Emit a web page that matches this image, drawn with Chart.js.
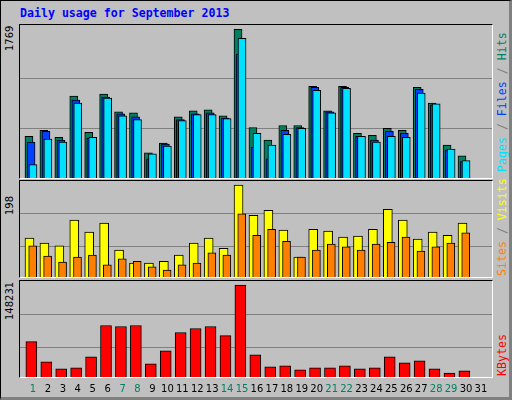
<!DOCTYPE html>
<html>
<head>
<meta charset="utf-8">
<script src="https://cdn.jsdelivr.net/npm/chart.js@4"></script>
<style>
  body { margin: 0; width: 512px; height: 400px; overflow: hidden; background: #c0c0c0; }
  #frame { position: absolute; left: 0; top: 0; width: 508px; height: 396px; border: 1px solid #000;
    border-right: 3px solid #808080; border-bottom: 3px solid #808080; box-sizing: content-box; }
  .t { position: absolute; font-family: "DejaVu Sans Mono", monospace; white-space: nowrap; }
  .panel { position: absolute; left: 19px; width: 472px; border-top: 1px solid #000; border-left: 1px solid #000;
    border-right: 1px solid #fff; border-bottom: 1px solid #fff; }
  .rot { position: absolute; transform-origin: left top; transform: rotate(-90deg); white-space: nowrap; }
  canvas { position: absolute; left: 0; top: 0; }
</style>
</head>
<body>
<div id="frame"></div>
<div class="t" style="left:20px;top:6px;color:#0000ff;font-weight:bold;font-size:11.6px;">Daily usage for September 2013</div>

<div class="panel" style="top:24px;height:153px;"><canvas id="c1"></canvas></div>
<div class="panel" style="top:180px;height:96px;"><canvas id="c2"></canvas></div>
<div class="panel" style="top:280px;height:96px;"><canvas id="c3"></canvas></div>

<div class="rot" style="left:4px;top:51px;font:10px 'DejaVu Sans';">1769</div>
<div class="rot" style="left:4px;top:215px;font:10px 'DejaVu Sans';">198</div>
<div class="rot" style="left:4px;top:320px;font:10px 'DejaVu Sans';">148231</div>

<div class="rot t" style="left:495px;top:172px;font-size:11.6px;"><span style="color:#00e0ff">Pages</span><span style="color:#808080"> / </span><span style="color:#0040ff">Files</span><span style="color:#808080"> / </span><span style="color:#008060">Hits</span></div>
<div class="rot t" style="left:495px;top:276px;font-size:11.6px;"><span style="color:#ff8000">Sites</span><span style="color:#808080"> / </span><span style="color:#ffff00">Visits</span></div>
<div class="rot t" style="left:495px;top:376px;font-size:11.6px;color:#ff0000;">KBytes</div>

<script>
const days = [1,2,3,4,5,6,7,8,9,10,11,12,13,14,15,16,17,18,19,20,21,22,23,24,25,26,27,28,29,30,31];
const weekend = [1,7,8,14,15,21,22,28,29];

const hits  = [497,566,485,974,543,997,787,776,299,415,729,799,811,741,1769,601,450,625,625,1090,799,1090,531,508,590,566,1078,892,392,264,0];
const files = [427,555,450,927,473,962,764,729,229,403,694,764,776,714,1474,369,229,566,601,1078,787,1078,497,450,555,531,1055,869,334,194,0];
const pages = [159,462,427,892,485,950,741,694,287,380,683,753,753,706,1660,531,392,520,590,1043,776,1067,497,427,497,485,1009,881,345,206,0];

const visits = [84,73,67,123,97,116,58,30,30,34,47,73,84,62,198,133,144,101,43,103,99,86,88,103,146,123,82,97,90,116,0];
const sites  = [67,45,32,43,47,26,39,34,22,15,26,30,52,47,136,90,103,77,43,58,71,65,58,71,75,86,56,65,73,95,0];

const kbytes = [57015,24435,13032,14661,32580,83079,81450,83079,21177,42354,71676,78192,81450,66789,148231,35838,16290,17919,11403,14661,14661,17919,13032,14661,32580,22806,26064,13032,6516,9774,0];

const grid1 = [590, 1180], max1 = 1820;
const grid2 = [65, 136], max2 = 207;
const grid3 = [47240, 100995], max3 = 154747;

function pts(vals, shift) {
  return vals.map((v, i) => ({ x: days[i] + shift, y: v }));
}

function makeChart(id, h, datasets, grid, max, extra) {
  const cv = document.getElementById(id);
  cv.width = 472; cv.height = h;
  cv.style.width = "472px"; cv.style.height = h + "px";
  return new Chart(cv, {
    type: "bar",
    data: { datasets: datasets },
    options: {
      responsive: false,
      animation: false,
      grouped: false,
      layout: { padding: extra ? { bottom: 24 } : 0 },
      plugins: { legend: { display: false }, tooltip: { enabled: false } },
      scales: {
        x: { type: "linear", min: 0.13, max: 31.74, offset: false, display: false },
        y: {
          min: 0, max: max,
          afterBuildTicks: (s) => { s.ticks = grid.map((v) => ({ value: v })); },
          ticks: { display: false },
          grid: { color: "#808080", lineWidth: 1, drawTicks: false },
          border: { display: false },
        },
      },
    },
    plugins: extra ? [extra] : [],
  });
}

function bar(label, vals, shift, color, w, order) {
  return {
    label: label, data: pts(vals, shift), backgroundColor: color,
    borderColor: "#000", borderWidth: 1, barThickness: w, order: order,
  };
}

makeChart("c1", 153, [
  bar("Hits", hits, -0.27, "#008060", 8, 3),
  bar("Files", files, -0.13, "#0040ff", 8, 2),
  bar("Pages", pages, 0, "#00e0ff", 8, 1),
], grid1, max1);

makeChart("c2", 96, [
  bar("Visits", visits, -0.235, "#ffff00", 9, 2),
  bar("Sites", sites, -0.02, "#ff8000", 8, 1),
], grid2, max2);

const dayLabels = {
  id: "dayLabels",
  afterDraw(chart) {
    const ctx = chart.ctx, xs = chart.scales.x;
    ctx.save();
    ctx.font = "10px 'DejaVu Sans'";
    ctx.textAlign = "center";
    ctx.textBaseline = "middle";
    days.forEach((d) => {
      ctx.fillStyle = weekend.includes(d) ? "#008060" : "#000";
      ctx.fillText(String(d), xs.getPixelForValue(d), chart.chartArea.bottom + 12);
    });
    ctx.restore();
  },
};

const c3 = document.getElementById("c3");
c3.parentNode.style.overflow = "visible";
makeChart("c3", 120, [
  bar("KBytes", kbytes, -0.11, "#ff0000", 11, 1),
], grid3, max3, dayLabels);
</script>
</body>
</html>
